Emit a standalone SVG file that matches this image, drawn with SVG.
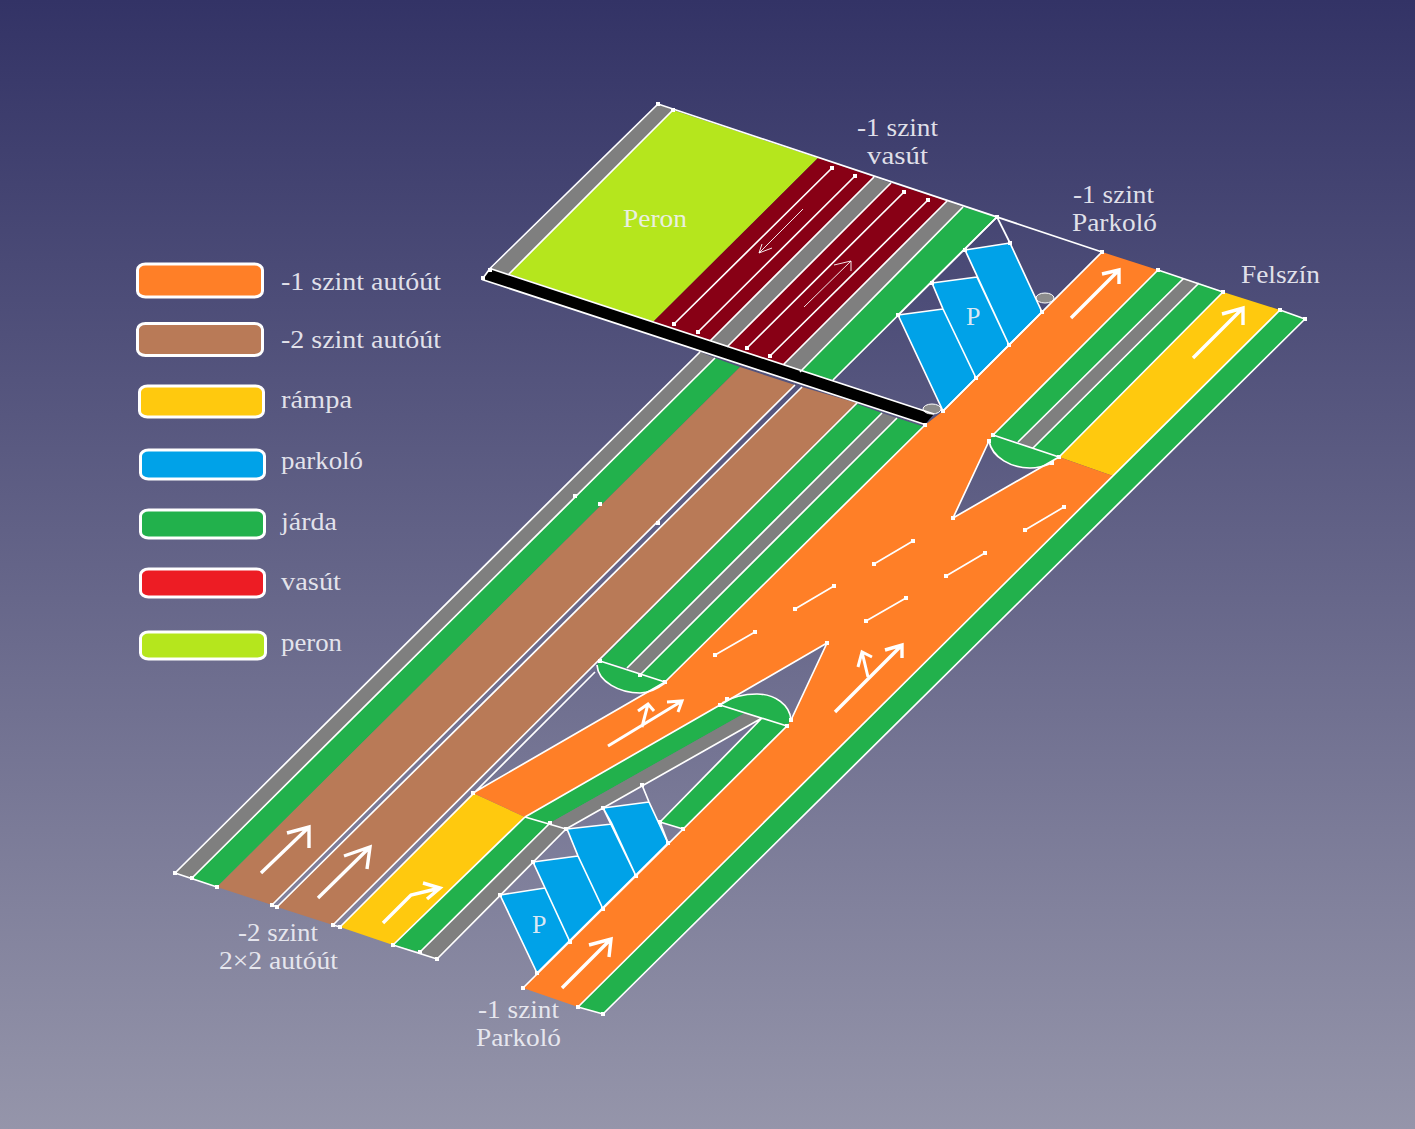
<svg xmlns="http://www.w3.org/2000/svg" width="1415" height="1129" viewBox="0 0 1415 1129">
<defs>
<linearGradient id="bg" x1="0" y1="0" x2="0" y2="1"><stop offset="0" stop-color="#333366"/><stop offset="1" stop-color="#9595aa"/></linearGradient>
<rect id="d" x="-2" y="-2" width="4" height="4" fill="#fff"/>
</defs>
<style>
.o{fill:#ff7f27}.b{fill:#b97a57}.y{fill:#ffc90e}.p{fill:#00a2e8}.g{fill:#22b14c}.v{fill:#880015}.l{fill:#b5e61d}.k{fill:#000}.s{fill:#7f7f7f}
.leg{stroke:#fff;stroke-width:3}
.w{fill:none;stroke:#fff;stroke-width:1.7;stroke-linejoin:round}
.a{fill:none;stroke:#fff;stroke-width:3.4}
.t{fill:none;stroke:#fff;stroke-width:.9}
.x{font-family:"Liberation Serif",serif;font-size:26px;fill:#f0f0f6;fill-opacity:.92}
</style>
<rect width="1415" height="1129" fill="url(#bg)"/>
<g id="legend">
<rect class="o leg" x="137.5" y="264" width="125" height="33" rx="8" ry="6"/>
<rect class="b leg" x="137.5" y="323.5" width="125" height="32" rx="8" ry="6"/>
<rect class="y leg" x="139.5" y="386" width="124" height="31" rx="8" ry="6"/>
<rect class="p leg" x="140.5" y="450" width="124" height="29" rx="8" ry="6"/>
<rect class="g leg" x="140.5" y="510" width="124" height="28" rx="8" ry="6"/>
<rect class="leg" fill="#ed1c24" x="140.5" y="569" width="124" height="28" rx="8" ry="6"/>
<rect class="l leg" x="140.5" y="632" width="125" height="27" rx="8" ry="6"/>
<text class="x" x="281" y="290" textLength="160" lengthAdjust="spacingAndGlyphs">-1 szint autóút</text>
<text class="x" x="281" y="348" textLength="160" lengthAdjust="spacingAndGlyphs">-2 szint autóút</text>
<text class="x" x="281" y="408" textLength="71" lengthAdjust="spacingAndGlyphs">rámpa</text>
<text class="x" x="281" y="469" textLength="82" lengthAdjust="spacingAndGlyphs">parkoló</text>
<text class="x" x="281" y="530" textLength="56" lengthAdjust="spacingAndGlyphs">járda</text>
<text class="x" x="281" y="590" textLength="60" lengthAdjust="spacingAndGlyphs">vasút</text>
<text class="x" x="281" y="651" textLength="61" lengthAdjust="spacingAndGlyphs">peron</text>
</g>
<g id="road-2">
<polygon class="s" points="700,352 715,358 192,878 175,873"/>
<polygon class="g" points="715,358 740,367 217,887 192,878"/>
<polygon class="b" points="740,367 795,385 272,905 217,887"/>
<polygon class="b" points="802,387 857,403 333,925 277,907"/>
<polygon class="g" points="857,404 882,413 627,668 600,661"/>
<polygon class="s" points="882,413 897,418 640,675 627,668"/>
<polygon class="g" points="897,418 925,427 665,682 640,675"/>
<path class="g" d="M600,661 L665,682 C657,689 650,693 640,693 C620,693 598,682 597,665 Z"/>
</g>
<g id="platform">
<polygon class="s" points="658,104 673,110 509,274 490,270"/>
<polygon class="l" points="673,110 818,158 653,322 509,274"/>
<polygon class="v" points="818,158 874,177 710,341 653,322"/>
<polygon class="s" points="874,177 891,183 727,347 710,341"/>
<polygon class="v" points="891,183 947,201 783,365 727,347"/>
<polygon class="s" points="947,201 963,207 800,372 783,365"/>
<polygon class="g" points="963,207 997,217 833,380 800,372"/>
<polygon class="k" points="482,279.500 490,268.500 934,414 925,424.500"/>
</g>
<g id="road-surface">
<polygon class="g" points="1158,270 1183,279 1018,442 993,435"/>
<polygon class="s" points="1183,279 1199,283 1033,448 1018,442"/>
<polygon class="g" points="1199,283 1223,292 1059,457 1033,448"/>
<path class="g" d="M993,435 L1059,457 L1052,463 C1045,466 1038,468 1030,468 C1012,468 992,458 989,441 Z"/>
<polygon class="y" points="1223,292 1280,310 1113,476 1059,457"/>
<polygon class="g" points="1280,310 1305,319 603,1014 578,1007"/>
<polygon class="y" points="473,793 525,817 393,945 340,927"/>
<polygon class="g" points="525,817 550,823 420,952 393,945"/>
<polygon class="s" points="550,823 566,829 437,959 420,952"/>
<polygon class="g" points="525,817 720,705 745,713 550,823"/>
<polygon class="s" points="550,823 745,713 762,718 566,829"/>
<path class="g" d="M720,705 L787,726 L791,720 C790,705 775,694 757,694 C745,694 732,697 722,703 Z"/>
<polygon class="g" points="762,718 787,726 683,829 660,822"/>
<polygon class="o" points="1102,252 1158,270 993,435 989,441 953,518 1059,457 1113,476 578,1007 523,988 787,726 791,720 827,643 720,705 525,817 473,793 665,682 925,425 943,411"/>
</g>
<g id="parking">
<polygon class="p" points="898,315 943,309 976,378 943,411"/>
<polygon class="p" points="932,283 977,277 1009,345 976,378 943,309"/>
<polygon class="p" points="965,250 1010,243 1042,312 1009,345 977,277"/>
<polygon class="p" points="500,895 545,888 570,942 537,973"/>
<polygon class="p" points="533,862 578,856 603,909 570,942 545,888"/>
<polygon class="p" points="567,829 612,824 636,876 603,909 578,856"/>
<polygon class="p" points="603,808 649,802 668,843 636,876 612,824"/>
<ellipse cx="1045" cy="298" rx="9" ry="5" fill="#8c8c8c" stroke="#fff"/>
<ellipse cx="932" cy="409" rx="9" ry="5" fill="#8c8c8c" stroke="#fff"/>
</g>
<g id="connectors">
<path class="w" d="M658,104L1102,252M1158,270L1223,292M1280,310L1305,319L603,1014L578,1007M1280,310L578,1007M658,104L490,268.500M482,279.500L490,268.500L934,414M482,279.500L925,424.500M673,110L509,274M874,177L710,341M891,183L727,347M947,201L783,365M963,207L800,372M997,217L833,380M700,352L175,873L217,887M715,358L192,878M795,385L272,905M802,387L277,907L272,905M857,403L333,925L340,927L595,672M882,413L627,668M897,418L640,675M925,425L665,682L600,661M393,945L525,817M393,945L437,959L566,829M420,952L550,823M566,829L762,718M1158,270L993,435L1059,457M1183,279L1018,442M1199,283L1033,448M1223,292L1059,457L953,518L989,441M1102,252L943,411M473,793L665,682M525,817L720,705L787,726M720,705L827,643L791,720M787,726L523,988M525,817L566,829M762,718L660,822L683,829M660,822L668,843"/>
<path class="w" d="M989,441C992,458 1012,468 1030,468C1038,468 1045,466 1052,463M597,665C598,682 620,693 640,693C650,693 657,689 665,683M722,703C732,697 745,694 757,694C775,694 790,705 791,720"/>
<path class="w" d="M997,217L1010,243M997,217L898,315L943,309L976,378M898,315L943,411L1042,312L1010,243L965,250L1009,345M932,283L977,277L1009,345M943,309L932,283M500,895L545,888L570,942M500,895L537,973L668,843L649,802L603,808L636,876M533,862L578,856L603,909M545,888L533,862M567,829L612,824L636,876M578,856L567,829M612,824L603,808M649,802L642,785"/>
<path class="w" d="M832,168L674,324M855,176L698,332M904,192L747,348M928,200L770,356M715,655L755,632M795,609L834,586M874,564L913,541M866,621L906,598M946,576L985,553M1025,530L1064,507"/>
<path class="t" d="M803,209L759,253M762,244L759,253L772,248M804,307L851,261M834,265L851,261L851,271"/>
<path class="a" d="M1071,318L1119,270M1102,274L1119,270L1119,284M1193,358L1243,308M1222,314L1243,308L1243,325M261,873L309,827M287,833L309,827L309,848M318,898L370,847M344,856L370,847L367,869M383,923L411,895L440,888M423,883L440,888L427,899M562,988L611,939M589,945L611,939L609,957M835,712L902,645M885,650L902,645L902,658"/>
<path class="a" style="stroke-width:3" d="M608,746L682,701M667,702L682,701L678,712M642,727L648,704M638,711L648,704L654,711M868,677L862,652M858,667L862,652L872,657"/>
</g>
<g id="points">
<use href="#d" x="658" y="104"/><use href="#d" x="673" y="110"/><use href="#d" x="490" y="270"/><use href="#d" x="483" y="278"/><use href="#d" x="832" y="168"/><use href="#d" x="855" y="176"/><use href="#d" x="904" y="192"/><use href="#d" x="928" y="200"/><use href="#d" x="674" y="324"/><use href="#d" x="698" y="332"/><use href="#d" x="747" y="348"/><use href="#d" x="770" y="356"/>
<use href="#d" x="997" y="217"/><use href="#d" x="1102" y="252"/><use href="#d" x="1158" y="270"/><use href="#d" x="1223" y="292"/><use href="#d" x="1280" y="310"/><use href="#d" x="1305" y="319"/><use href="#d" x="1010" y="243"/><use href="#d" x="965" y="250"/><use href="#d" x="932" y="283"/><use href="#d" x="898" y="315"/><use href="#d" x="1042" y="312"/><use href="#d" x="1009" y="345"/><use href="#d" x="976" y="378"/><use href="#d" x="943" y="411"/><use href="#d" x="925" y="425"/>
<use href="#d" x="993" y="435"/><use href="#d" x="989" y="441"/><use href="#d" x="953" y="518"/><use href="#d" x="1052" y="463"/><use href="#d" x="1059" y="457"/>
<use href="#d" x="715" y="655"/><use href="#d" x="755" y="632"/><use href="#d" x="795" y="609"/><use href="#d" x="834" y="586"/><use href="#d" x="874" y="564"/><use href="#d" x="913" y="541"/><use href="#d" x="866" y="621"/><use href="#d" x="906" y="598"/><use href="#d" x="946" y="576"/><use href="#d" x="985" y="553"/><use href="#d" x="1025" y="530"/><use href="#d" x="1064" y="507"/>
<use href="#d" x="575" y="496"/><use href="#d" x="600" y="504"/><use href="#d" x="658" y="523"/><use href="#d" x="600" y="661"/><use href="#d" x="665" y="682"/><use href="#d" x="640" y="675"/><use href="#d" x="473" y="793"/><use href="#d" x="827" y="643"/><use href="#d" x="727" y="699"/><use href="#d" x="720" y="705"/><use href="#d" x="791" y="720"/><use href="#d" x="787" y="726"/>
<use href="#d" x="550" y="823"/><use href="#d" x="566" y="829"/><use href="#d" x="642" y="785"/><use href="#d" x="603" y="808"/><use href="#d" x="533" y="862"/><use href="#d" x="500" y="895"/><use href="#d" x="660" y="822"/><use href="#d" x="683" y="829"/><use href="#d" x="668" y="843"/><use href="#d" x="636" y="876"/><use href="#d" x="603" y="909"/><use href="#d" x="570" y="942"/><use href="#d" x="537" y="973"/><use href="#d" x="523" y="988"/><use href="#d" x="578" y="1007"/><use href="#d" x="603" y="1014"/>
<use href="#d" x="175" y="873"/><use href="#d" x="192" y="878"/><use href="#d" x="217" y="887"/><use href="#d" x="272" y="905"/><use href="#d" x="277" y="907"/><use href="#d" x="333" y="925"/><use href="#d" x="340" y="927"/><use href="#d" x="393" y="945"/><use href="#d" x="420" y="952"/><use href="#d" x="437" y="959"/>
</g>
<g id="labels">
<text class="x" x="623" y="227" textLength="64" lengthAdjust="spacingAndGlyphs">Peron</text>
<text class="x" x="857" y="136" textLength="81" lengthAdjust="spacingAndGlyphs">-1 szint</text>
<text class="x" x="867" y="164" textLength="61" lengthAdjust="spacingAndGlyphs">vasút</text>
<text class="x" x="1073" y="203" textLength="81" lengthAdjust="spacingAndGlyphs">-1 szint</text>
<text class="x" x="1072" y="231" textLength="85" lengthAdjust="spacingAndGlyphs">Parkoló</text>
<text class="x" x="1241" y="283" textLength="79" lengthAdjust="spacingAndGlyphs">Felszín</text>
<text class="x" x="966" y="325">P</text>
<text class="x" x="532" y="933">P</text>
<text class="x" x="238" y="941" textLength="80" lengthAdjust="spacingAndGlyphs">-2 szint</text>
<text class="x" x="219" y="969" textLength="119" lengthAdjust="spacingAndGlyphs">2×2 autóút</text>
<text class="x" x="478" y="1018" textLength="81" lengthAdjust="spacingAndGlyphs">-1 szint</text>
<text class="x" x="476" y="1046" textLength="85" lengthAdjust="spacingAndGlyphs">Parkoló</text>
</g>
</svg>
